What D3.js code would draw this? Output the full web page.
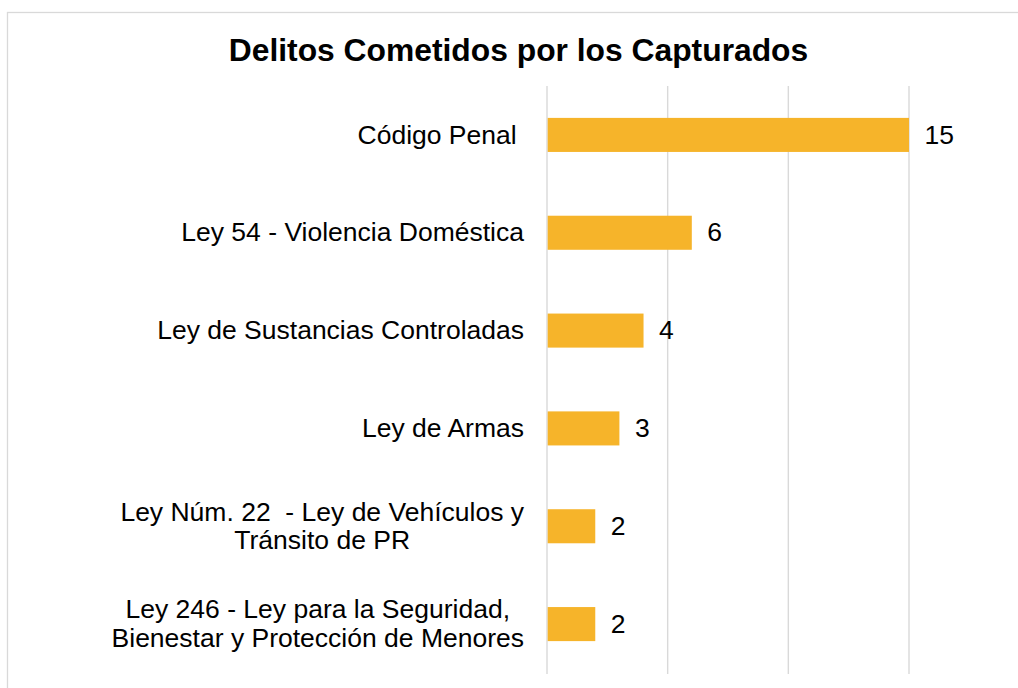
<!DOCTYPE html>
<html>
<head>
<meta charset="utf-8">
<script src="https://cdn.jsdelivr.net/npm/d3@7"></script>
<style>
  html, body { margin: 0; padding: 0; background: #fff; }
  svg text { font-family: Arial, "Liberation Sans", sans-serif; fill: #000; white-space: pre; }
</style>
</head>
<body>
<svg id="chart"></svg>
<script>
const width = 1018;
const height = 688;

// Chart data
const categories = [
    ['Código Penal '],
    ['Ley 54 - Violencia Doméstica'],
    ['Ley de Sustancias Controladas'],
    ['Ley de Armas'],
    ['Ley Núm. 22  - Ley de Vehículos y', 'Tránsito de PR'],
    ['Ley 246 - Ley para la Seguridad,', 'Bienestar y Protección de Menores']
];
const values = [15, 6, 4, 3, 2, 2];
const xTicks = [0, 5, 10, 15];
const title = 'Delitos Cometidos por los Capturados';

const svg = d3.select('#chart')
    .attr('width', width)
    .attr('height', height);

// outer border (only top and left visible in the frame)
svg.append('rect')
    .attr('x', 7.5).attr('y', 12.5)
    .attr('width', width + 20).attr('height', height + 20)
    .attr('fill', 'none')
    .attr('stroke', '#d9d9d9')
    .attr('stroke-width', 1.3);

svg.append('text')
    .attr('x', 518.5)
    .attr('y', 61)
    .attr('text-anchor', 'middle')
    .style('font-size', '31.8px')
    .style('font-weight', 'bold')
    .text(title);

const xScale = d3.scaleLinear().domain([0, 15]).range([547, 909]);
const yScale = d3.scaleBand()
    .domain(d3.range(categories.length))
    .range([86, 673])
    .paddingInner(0.652)
    .paddingOuter(0.326);

// vertical gridlines
svg.append('g')
    .selectAll('line')
    .data(xTicks)
    .join('line')
    .attr('x1', d => xScale(d))
    .attr('x2', d => xScale(d))
    .attr('y1', 86)
    .attr('y2', 674)
    .attr('stroke', '#d9d9d9')
    .attr('stroke-width', 1.4);

// bars
svg.append('g')
    .selectAll('rect')
    .data(values)
    .join('rect')
    .attr('x', xScale(0) + 0.7)
    .attr('y', (d, i) => yScale(i))
    .attr('width', d => xScale(d) - xScale(0) - 0.7)
    .attr('height', yScale.bandwidth())
    .attr('fill', '#f6b42a');

// value labels
svg.append('g')
    .selectAll('text')
    .data(values)
    .join('text')
    .attr('x', d => xScale(d) + 15.5)
    .attr('y', (d, i) => yScale(i) + yScale.bandwidth() / 2)
    .attr('dy', '0.33em')
    .style('font-size', '26.5px')
    .text(d => d);

// category labels (multi-line labels centred as a block, block right-aligned)
const labelRight = 524;
const lineGap = 28.8;
const labelG = svg.append('g');
categories.forEach((lines, i) => {
    const cy = yScale(i) + yScale.bandwidth() / 2;
    if (lines.length === 1) {
        labelG.append('text')
            .attr('x', labelRight)
            .attr('y', cy)
            .attr('dy', '0.33em')
            .attr('text-anchor', 'end')
            .style('font-size', '26.5px')
            .text(lines[0]);
        return;
    }
    const t = labelG.append('text')
        .attr('text-anchor', 'middle')
        .style('font-size', '26.5px');
    const spans = lines.map((s, k) => t.append('tspan')
        .attr('y', cy + (k - (lines.length - 1) / 2) * lineGap)
        .attr('dy', '0.33em')
        .text(s));
    const maxW = d3.max(spans, s => s.node().getComputedTextLength());
    spans.forEach(s => s.attr('x', labelRight - maxW / 2));
});
</script>
</body>
</html>
